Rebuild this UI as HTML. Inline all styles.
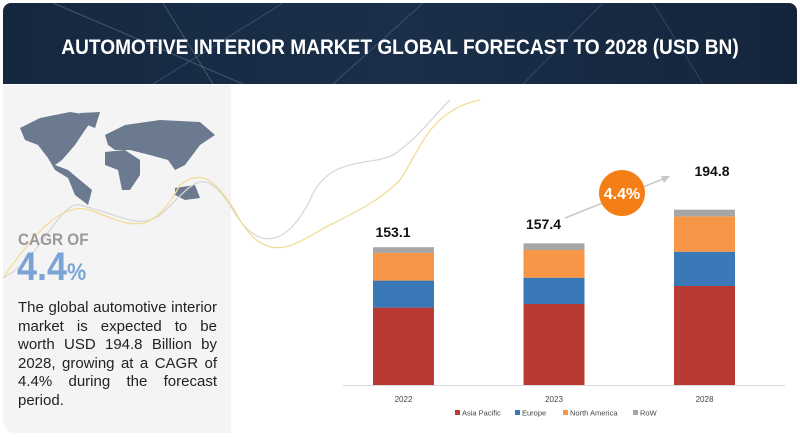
<!DOCTYPE html>
<html><head><meta charset="utf-8"><style>
body{margin:0;width:800px;height:438px;background:#fff;position:relative;overflow:hidden;font-family:"Liberation Sans",sans-serif}
.abs{position:absolute}
#hdr{left:3px;top:3px;width:794px;height:81px;border-radius:8px 8px 0 0;background:linear-gradient(90deg,#16283f,#1b2f4a 50%,#14253b);overflow:hidden}
#title{left:0;top:33px;width:794px;text-align:center;color:#fff;font-size:21px;font-weight:bold;transform:scaleX(0.91);letter-spacing:0}
#left{left:3px;top:85px;width:228px;height:348px;background:#f4f4f4;border-radius:0 0 0 12px}
#para{left:18px;top:299px;width:199px;font-size:15px;line-height:18.5px;text-align:justify;color:#222;text-align-last:left}
</style></head><body>
<div id="hdr" class="abs">
<svg width="794" height="81" class="abs" style="left:0;top:0">
<line x1="50" y1="0" x2="240" y2="81" stroke="#5a7390" stroke-width="1" opacity=".6"/>
<line x1="280" y1="0" x2="150" y2="81" stroke="#5a7390" opacity=".5"/>
<line x1="160" y1="0" x2="210" y2="81" stroke="#8899aa" opacity=".4"/>
<line x1="420" y1="0" x2="330" y2="81" stroke="#5a7390" opacity=".5"/>
<line x1="520" y1="81" x2="600" y2="0" stroke="#5a7390" opacity=".4"/>
<line x1="650" y1="0" x2="700" y2="81" stroke="#5a7390" opacity=".4"/>
</svg>
<div id="title" class="abs">AUTOMOTIVE INTERIOR MARKET GLOBAL FORECAST TO 2028 (USD BN)</div>
</div>
<div id="left" class="abs"></div>
<svg class="abs" style="left:0;top:0" width="800" height="438">
<g fill="#6b7a8f">
<path d="M20,128 L40,118 L70,112 L95,116 L85,130 L75,145 L62,160 L55,165 L68,170 L80,180 L92,190 L88,205 L75,195 L68,178 L55,170 L48,158 L38,145 L25,140Z"/>
<path d="M80,113 L100,112 L95,128 L85,124Z"/>
<path d="M105,135 L125,125 L160,120 L200,122 L215,135 L200,145 L185,165 L175,170 L168,160 L150,155 L130,150 L115,150 L108,145Z"/>
<path d="M105,152 L125,150 L140,160 L140,175 L130,190 L122,190 L118,170 L105,165Z"/>
<path d="M175,188 L195,185 L200,198 L185,200 L175,195Z"/>
</g>
<path d="M3,278 C40,260 60,200 80,205 C120,215 140,230 160,215 C190,190 200,160 230,205 C260,260 290,240 310,200 C330,150 380,170 400,150 C420,135 430,120 450,100" fill="none" stroke="#d8d8d8" stroke-width="1.3"/>
<path d="M3,278 C30,240 60,200 90,210 C130,225 150,240 180,185 C200,170 215,175 240,220 C270,270 300,240 330,225 C360,210 380,200 400,180 C420,150 430,110 480,100" fill="none" stroke="#f3dc98" stroke-width="1.3"/>
</svg>
<div class="abs" style="left:18px;top:230px;font-size:17px;font-weight:bold;color:#9a9a9a;transform:scaleX(.9);transform-origin:left">CAGR OF</div>
<div class="abs" style="left:17px;top:245px;font-size:40px;font-weight:bold;color:#7ba4d4;transform:scaleX(.9);transform-origin:left">4.4<span style="font-size:24px">%</span></div>
<div id="para" class="abs">The global automotive interior market is expected to be worth USD 194.8 Billion by 2028, growing at a CAGR of 4.4% during the forecast period.</div>
<svg id="chart" class="abs" style="left:0;top:0" width="800" height="438"></svg>
<script>
const categories=["2022","2023","2028"];
const asiaPacific=[86,90,110];
const europe=[30,29.2,38.1];
const northAmerica=[30.8,30.8,39.3];
const row=[6.3,7.4,7.4];
const totals=["153.1","157.4","194.8"];
const seriesNames=["Asia Pacific","Europe","North America","RoW"];
const colors=["#b83a32","#3a78b8","#f79646","#a6a6a6"];
const NS="http://www.w3.org/2000/svg";
const svg=document.getElementById('chart');
const baseY=385,scale=0.9,x0=373,step=150.5,bw=61;
const y=v=>baseY-v*scale;
const xb=i=>x0+i*step;
function mk(t,a){const e=document.createElementNS(NS,t);for(const k in a)e.setAttribute(k,a[k]);svg.appendChild(e);return e;}
const ax=mk('line',{x1:343,y1:385.5,x2:785,y2:385.5,stroke:'#d9d9d9'});


const series=[asiaPacific,europe,northAmerica,row];
categories.forEach((c,i)=>{
  let cum=0;
  series.forEach((s,k)=>{
    const r=mk('rect',{x:xb(i),y:y(cum+s[i]),width:bw,height:s[i]*scale,fill:colors[k]});
    
    
    cum+=s[i];
  });
  const t=mk('text',{x:xb(i)+bw/2,y:402,'text-anchor':'middle','font-size':'8','fill':'#444'});
  t.textContent=c;
  
  
  const lv=mk('text',{x:xb(i)+(i==2?38:20),y:[237,229,176][i],'text-anchor':'middle','font-size':'14','font-weight':'bold','fill':'#111'});
  lv.textContent=totals[i];
  
  
});
const arr=mk('line',{x1:565,y1:218,x2:668,y2:177,stroke:'#c8c8c8','stroke-width':'1.5'});


const ah=mk('polygon',{points:'670,176 661,176 664,183',fill:'#c8c8c8'});


const circ=mk('circle',{cx:622,cy:193,r:23,fill:'#f57f17'});


const ct=mk('text',{x:622,y:199,'text-anchor':'middle','font-size':'16','font-weight':'bold',fill:'#fff'});
ct.textContent='4.4%';


let lx=455;
const lw=[60,48,70,30];
seriesNames.forEach((n,k)=>{
  const s=mk('rect',{x:lx,y:410,width:5,height:5,fill:colors[k]});
  
  
  const t=mk('text',{x:lx+7,y:415.5,'font-size':'7.5',fill:'#444'});
  t.textContent=n;
  
  
  lx+=lw[k];
});
</script>
</body></html>
